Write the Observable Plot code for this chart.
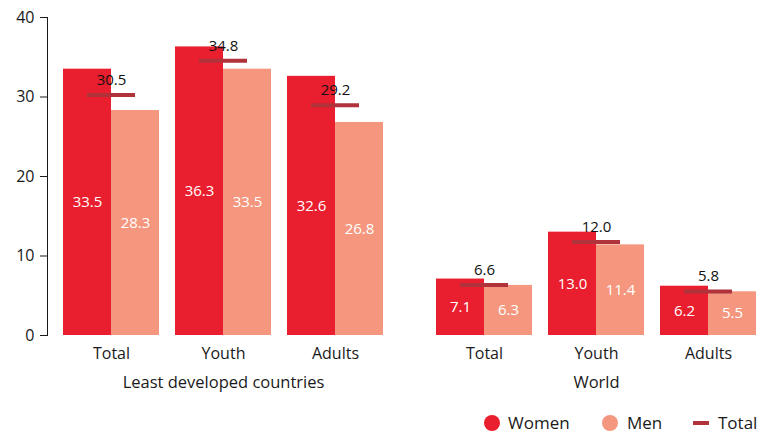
<!DOCTYPE html>
<html>
<head>
<meta charset="utf-8">
<script src="https://cdn.jsdelivr.net/npm/d3@7"></script>
<script src="https://cdn.jsdelivr.net/npm/@observablehq/plot@0.6"></script>
<style>
  html, body { margin: 0; padding: 0; background: #fff; }
  body { width: 772px; height: 435px; overflow: hidden; font-family: "Open Sans", sans-serif; color: #1a1a1a; }
  #legend { position: relative; height: 25px; font-size: 17px; }
  #legend .sw { position: absolute; }
  #legend .lbl { position: absolute; top: 0; line-height: 25px; }
</style>
</head>
<body>
<div id="chart"></div>
<div id="legend"></div>
<script>
const regions = ["Least developed countries", "World"];
const groups = ["Total", "Youth", "Adults"];
const rowRegion = ["Least developed countries", "Least developed countries", "Least developed countries", "World", "World", "World"];
const rowGroup = ["Total", "Youth", "Adults", "Total", "Youth", "Adults"];
const women = [33.5, 36.3, 32.6, 7.1, 13.0, 6.2];
const men = [28.3, 33.5, 26.8, 6.3, 11.4, 5.5];
const total = [30.5, 34.8, 29.2, 6.6, 12.0, 5.8];
const yTicks = [0, 10, 20, 30, 40];
const seriesNames = ["Women", "Men", "Total"];

const C_WOMEN = "#e91e2e";
const C_MEN = "#f4977e";
const C_TOTAL = "#b0323b";

const rows = rowGroup.map((g, i) => ({region: rowRegion[i], group: g, women: women[i], men: men[i], total: total[i]}));
const regionRows = regions.map(r => ({region: r}));

const chart = Plot.plot({
  width: 772,
  height: 410,
  marginLeft: 47,
  marginRight: 0,
  marginTop: 17,
  marginBottom: 75,
  style: {fontFamily: "Open Sans, sans-serif", fontSize: "16px", color: "#1a1a1a", background: "white"},
  fx: {domain: regions, paddingInner: 21 / 373, paddingOuter: 0, round: false, axis: null, label: null},
  x: {domain: groups, paddingInner: 1 / 7, paddingOuter: 1 / 7, round: false, tickSize: 0, tickPadding: 12, label: null},
  y: {domain: [0, 40], ticks: yTicks, tickSize: 7, tickPadding: 6, line: true, label: null},
  marks: [
    Plot.barY(rows, {fx: "region", x: "group", y: "women", fill: C_WOMEN, insetRight: 48}),
    Plot.barY(rows, {fx: "region", x: "group", y: "men", fill: C_MEN, insetLeft: 48}),
    Plot.tickY(rows, {fx: "region", x: "group", y: "total", stroke: C_TOTAL, strokeWidth: 4, insetLeft: 24, insetRight: 24, dy: 2}),
    Plot.text(rows, {fx: "region", x: "group", y: d => d.women / 2, text: d => d.women.toFixed(1), dx: -24, fill: "white", fontSize: 15}),
    Plot.text(rows, {fx: "region", x: "group", y: d => d.men / 2, text: d => d.men.toFixed(1), dx: 24, fill: "white", fontSize: 15}),
    Plot.text(rows, {fx: "region", x: "group", y: "total", text: d => d.total.toFixed(1), dy: -13, fill: "#111", fontSize: 15}),
    Plot.text(regionRows, {fx: "region", text: "region", frameAnchor: "bottom", dy: 52, fill: "#1a1a1a", fontSize: 16.5})
  ]
});
document.getElementById("chart").appendChild(chart);

// Legend
const legend = document.getElementById("legend");
const items = [
  {name: seriesNames[0], type: "dot", color: C_WOMEN, sx: 484, tx: 508},
  {name: seriesNames[1], type: "dot", color: C_MEN, sx: 602, tx: 627},
  {name: seriesNames[2], type: "line", color: C_TOTAL, sx: 693, tx: 718}
];
for (const it of items) {
  const sw = document.createElement("div");
  sw.className = "sw";
  if (it.type === "dot") {
    Object.assign(sw.style, {left: it.sx + "px", top: "4.5px", width: "16px", height: "16px", borderRadius: "50%", background: it.color});
  } else {
    Object.assign(sw.style, {left: it.sx + "px", top: "10.5px", width: "16px", height: "4px", background: it.color});
  }
  legend.appendChild(sw);
  const t = document.createElement("div");
  t.className = "lbl";
  t.style.left = it.tx + "px";
  t.textContent = it.name;
  legend.appendChild(t);
}
</script>
</body>
</html>
